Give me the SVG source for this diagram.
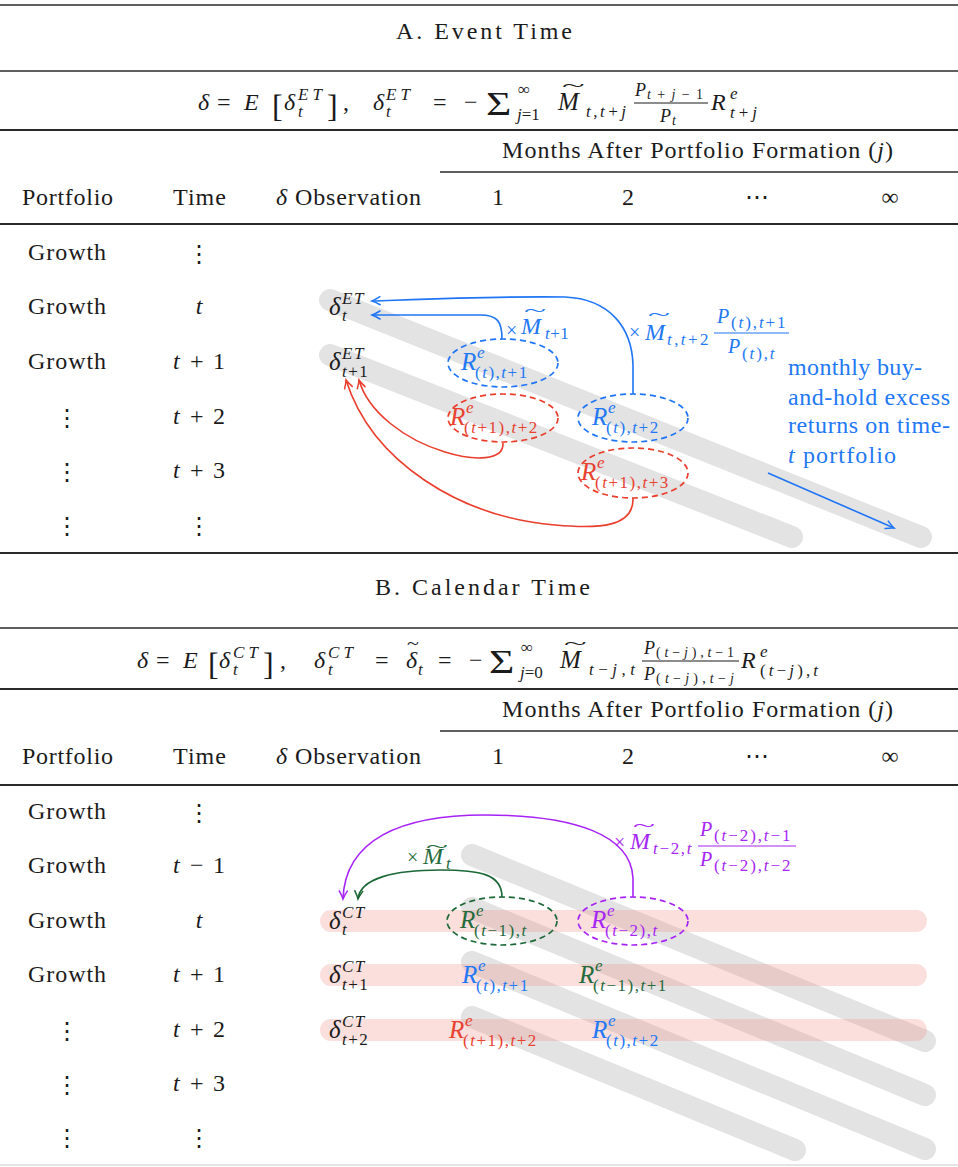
<svg xmlns="http://www.w3.org/2000/svg" width="958" height="1167" viewBox="0 0 958 1167">
<defs>
<style>
.t{font-family:"Liberation Serif","DejaVu Serif",serif;font-size:22px;fill:#1b1b1b}
.b{font-size:24px}
.i{font-style:italic}
.c{text-anchor:middle}
.m{font-size:25px;font-style:italic}
.sc{font-size:17px;letter-spacing:1.5px}
.f14{font-size:14px}
.f17{font-size:17px}
.f18{font-size:18px}
.f20{font-size:20px}
.f24{font-size:24px}
.f25{font-size:25px}
.f30{font-size:30px}
.f32{font-size:32px}
.ls05{letter-spacing:.5px}
.vd{font-family:"DejaVu Sans","Liberation Sans",sans-serif;font-size:24px;text-anchor:middle;fill:#1b1b1b}
.rule{stroke:#2a2a2a;fill:none}
.gb{stroke:#e3e3e3;stroke-width:22;stroke-linecap:round;fill:none}
.pk{stroke:#f0968f;stroke-opacity:.3;stroke-width:22;stroke-linecap:round;fill:none}
.el{fill:none;stroke-width:1.7;stroke-dasharray:6 4}
.ar{fill:none;stroke-width:1.6}
.fl{stroke-width:1.1}
.B{fill:#2278f5}.R{fill:#e8412f}.G{fill:#256b3c}.P{fill:#a626f2}
.sB{stroke:#1f75f5}.sR{stroke:#ea3d2c}.sG{stroke:#1d6838}.sP{stroke:#a723f5}
</style>
<marker id="mB" viewBox="-10 -6 12 12" refX="0" refY="0" markerWidth="12" markerHeight="12" markerUnits="userSpaceOnUse" orient="auto"><path d="M-8,-4 Q-3,-1 0,0 Q-3,1 -8,4" fill="none" stroke="#1f75f5" stroke-width="1.5" stroke-linecap="round"/></marker>
<marker id="mR" viewBox="-10 -6 12 12" refX="0" refY="0" markerWidth="12" markerHeight="12" markerUnits="userSpaceOnUse" orient="auto"><path d="M-8,-4 Q-3,-1 0,0 Q-3,1 -8,4" fill="none" stroke="#ea3d2c" stroke-width="1.5" stroke-linecap="round"/></marker>
<marker id="mG" viewBox="-10 -6 12 12" refX="0" refY="0" markerWidth="12" markerHeight="12" markerUnits="userSpaceOnUse" orient="auto"><path d="M-8,-4 Q-3,-1 0,0 Q-3,1 -8,4" fill="none" stroke="#1d6838" stroke-width="1.5" stroke-linecap="round"/></marker>
<marker id="mP" viewBox="-10 -6 12 12" refX="0" refY="0" markerWidth="12" markerHeight="12" markerUnits="userSpaceOnUse" orient="auto"><path d="M-8,-4 Q-3,-1 0,0 Q-3,1 -8,4" fill="none" stroke="#a723f5" stroke-width="1.5" stroke-linecap="round"/></marker>
</defs>
<rect width="958" height="1167" fill="#fff"/>

<g id="rules">
<line class="rule" x1="0" y1="5" x2="958" y2="5" stroke-width="1.3"/>
<line class="rule" x1="0" y1="71" x2="958" y2="71" stroke-width="1.3"/>
<line class="rule" x1="0" y1="130" x2="958" y2="130" stroke-width="2.2"/>
<line class="rule" x1="440" y1="172" x2="958" y2="172" stroke-width="1.3"/>
<line class="rule" x1="0" y1="224" x2="958" y2="224" stroke-width="1.8"/>
<line class="rule" x1="0" y1="553" x2="958" y2="553" stroke-width="2.2"/>
<line class="rule" x1="0" y1="628" x2="958" y2="628" stroke-width="1.3"/>
<line class="rule" x1="0" y1="689" x2="958" y2="689" stroke-width="2.2"/>
<line class="rule" x1="440" y1="731" x2="958" y2="731" stroke-width="1.3"/>
<line class="rule" x1="0" y1="785" x2="958" y2="785" stroke-width="1.8"/>
<line x1="0" y1="1165" x2="958" y2="1165" stroke="#c8c8c8" stroke-width="1"/>
</g>

<!-- ========== PANEL A ========== -->
<g id="titleA"><text class="t b" x="396" y="39" textLength="176" lengthAdjust="spacing">A. Event Time</text></g>

<g id="formulaA">
<text class="t i f24" x="198" y="110">δ</text>
<text class="t f24" x="217" y="110">=</text>
<text class="t i f24" x="244" y="110">E</text>
<text class="t f32" x="272" y="117">[</text>
<text class="t i f24" x="284" y="110">δ</text>
<text class="t i f17" x="298" y="100" textLength="24" lengthAdjust="spacing">ET</text>
<text class="t i f17" x="298" y="117">t</text>
<text class="t f32" x="327" y="117">]</text>
<text class="t f24" x="343" y="110">,</text>
<text class="t i f24" x="373" y="110">δ</text>
<text class="t i f17" x="386" y="100" textLength="24" lengthAdjust="spacing">ET</text>
<text class="t i f17" x="386" y="117">t</text>
<text class="t f24" x="433" y="110">=</text>
<text class="t f24" x="464" y="110">−</text>
<text class="t f30" transform="translate(486,115) scale(1.45,1.15)">Σ</text>
<text class="t f17" x="518" y="95">∞</text>
<text class="t f17" x="517" y="120"><tspan class="i">j</tspan>=1</text>
<text class="t i f25" x="558" y="110">M</text>
<text class="t" transform="translate(562,91) scale(1.9,0.8)">~</text>
<text class="t i f17" x="586" y="117" textLength="40" lengthAdjust="spacing">t,t+j</text>
<text class="t i f18" x="635" y="96">P</text>
<text class="t f14" x="647" y="99" textLength="56" lengthAdjust="spacing"><tspan class="i">t</tspan>+<tspan class="i">j</tspan>−1</text>
<line x1="634" y1="103" x2="708" y2="103" stroke="#1b1b1b" stroke-width="1"/>
<text class="t i f18" x="660" y="122">P</text>
<text class="t i f14" x="672" y="125">t</text>
<text class="t i f24" x="711" y="110">R</text>
<text class="t i f17" x="730" y="99">e</text>
<text class="t f17" x="730" y="118" textLength="27" lengthAdjust="spacing"><tspan class="i">t</tspan>+<tspan class="i">j</tspan></text>
</g>

<g id="headerA">
<text class="t b" x="502" y="158" textLength="391" lengthAdjust="spacing">Months After Portfolio Formation (<tspan class="i">j</tspan>)</text>
<text class="t b" x="22" y="205" textLength="91" lengthAdjust="spacing">Portfolio</text>
<text class="t b" x="173" y="205" textLength="53" lengthAdjust="spacing">Time</text>
<text class="t b" x="276" y="205" textLength="145" lengthAdjust="spacing"><tspan class="i">δ</tspan> Observation</text>
<text class="t b c" x="498" y="205">1</text>
<text class="t b c" x="628" y="205">2</text>
<text class="t b c" x="757" y="205">⋯</text>
<text class="t b c" x="890" y="205">∞</text>
</g>

<g id="rowsA">
<text class="t b" x="28" y="260" textLength="78" lengthAdjust="spacing">Growth</text>
<text class="t b" x="28" y="314" textLength="78" lengthAdjust="spacing">Growth</text>
<text class="t b" x="28" y="369" textLength="78" lengthAdjust="spacing">Growth</text>
<text class="vd" x="67" y="426">⋮</text>
<text class="vd" x="67" y="480">⋮</text>
<text class="vd" x="67" y="534">⋮</text>
<text class="vd" x="199" y="262">⋮</text>
<text class="t b i c" x="199" y="314">t</text>
<text class="t b" y="369"><tspan class="i" x="173">t</tspan><tspan x="190">+</tspan><tspan x="213">1</tspan></text>
<text class="t b" y="424"><tspan class="i" x="173">t</tspan><tspan x="190">+</tspan><tspan x="213">2</tspan></text>
<text class="t b" y="478"><tspan class="i" x="173">t</tspan><tspan x="190">+</tspan><tspan x="213">3</tspan></text>
<text class="vd" x="199" y="534">⋮</text>
</g>

<g id="barsA">
<line class="gb" x1="330" y1="300" x2="921" y2="537"/>
<line class="gb" x1="330" y1="355" x2="792" y2="537"/>
</g>

<g id="deltaA_t">
<text class="t m" x="329" y="315">δ</text>
<text class="t i sc" x="342" y="304">ET</text>
<text class="t i sc" x="342" y="321">t</text>
</g>
<g id="deltaA_t1">
<text class="t m" x="329" y="370">δ</text>
<text class="t i sc" x="342" y="359">ET</text>
<text class="t sc" x="342" y="377"><tspan class="i">t</tspan>+1</text>
</g>

<g id="cellA1">
<ellipse class="el sB" cx="503" cy="363" rx="55" ry="24"/>
<text class="t m B" x="461" y="370">R</text>
<text class="t i sc B" x="477" y="358">e</text>
<text class="t sc B" x="475" y="378">(<tspan class="i">t</tspan>),<tspan class="i">t</tspan>+1</text>
</g>
<g id="cellA2">
<ellipse class="el sR" cx="503" cy="418" rx="55" ry="24"/>
<text class="t m R" x="450" y="425">R</text>
<text class="t i sc R" x="466" y="413">e</text>
<text class="t sc R" x="464" y="433">(<tspan class="i">t</tspan>+1),<tspan class="i">t</tspan>+2</text>
</g>
<g id="cellA3">
<ellipse class="el sB" cx="633" cy="418" rx="55" ry="24"/>
<text class="t m B" x="592" y="425">R</text>
<text class="t i sc B" x="608" y="413">e</text>
<text class="t sc B" x="606" y="433">(<tspan class="i">t</tspan>),<tspan class="i">t</tspan>+2</text>
</g>
<g id="cellA4">
<ellipse class="el sR" cx="633" cy="473" rx="55" ry="25"/>
<text class="t m R" x="581" y="480">R</text>
<text class="t i sc R" x="597" y="468">e</text>
<text class="t sc R" x="595" y="488">(<tspan class="i">t</tspan>+1),<tspan class="i">t</tspan>+3</text>
</g>

<g id="labelA1">
<text class="t B f20" x="506" y="337">×</text>
<text class="t i B f24" x="521" y="334">M</text>
<text class="t B" transform="translate(524,316) scale(1.85,0.8)">~</text>
<text class="t sc ls05 B" x="545" y="339"><tspan class="i">t</tspan>+1</text>
</g>
<g id="labelA2">
<text class="t B f20" x="629" y="339">×</text>
<text class="t i B f24" x="645" y="340">M</text>
<text class="t B" transform="translate(648,320) scale(1.85,0.8)">~</text>
<text class="t sc B" x="667" y="345" textLength="43" lengthAdjust="spacing"><tspan class="i">t</tspan>,<tspan class="i">t</tspan>+2</text>
<text class="t i B f20" x="717" y="323">P</text>
<text class="t sc B" x="731" y="328" textLength="56" lengthAdjust="spacing">(<tspan class="i">t</tspan>),<tspan class="i">t</tspan>+1</text>
<line class="sB fl" x1="714" y1="333" x2="789" y2="333"/>
<text class="t i B f20" x="728" y="353">P</text>
<text class="t sc B" x="742" y="359" textLength="34" lengthAdjust="spacing">(<tspan class="i">t</tspan>),<tspan class="i">t</tspan></text>
</g>
<g id="noteA">
<text class="t b B" x="788" y="375" textLength="134" lengthAdjust="spacing">monthly buy-</text>
<text class="t b B" x="788" y="405" textLength="162" lengthAdjust="spacing">and-hold excess</text>
<text class="t b B" x="788" y="433" textLength="162" lengthAdjust="spacing">returns on time-</text>
<text class="t b B" x="788" y="463" textLength="108" lengthAdjust="spacing"><tspan class="i">t</tspan> portfolio</text>
</g>

<g id="connectorsA">
<path class="ar sB" d="M502,339 C502,322 498,315 480,315 L372,315" marker-end="url(#mB)"/>
<path class="ar sB" d="M633,394 L633,365 C632,328 610,299 565,297 C500,296 430,299 372,301" marker-end="url(#mB)"/>
<path class="ar sR" d="M503,443 C504,461 474,461 445,452 C405,440 368,412 359,380" marker-end="url(#mR)"/>
<path class="ar sR" d="M633,498 C634,527 600,529 555,525 C460,517 372,462 346,380" marker-end="url(#mR)"/>
<path class="ar sB" d="M768,473 L894,528" marker-end="url(#mB)"/>
</g>

<!-- ========== PANEL B ========== -->
<g id="titleB"><text class="t b" x="375" y="595" textLength="215" lengthAdjust="spacing">B. Calendar Time</text></g>

<g id="formulaB">
<text class="t i f24" x="137" y="668">δ</text>
<text class="t f24" x="156" y="668">=</text>
<text class="t i f24" x="183" y="668">E</text>
<text class="t f32" x="208" y="675">[</text>
<text class="t i f24" x="219" y="668">δ</text>
<text class="t i f17" x="233" y="658" textLength="25" lengthAdjust="spacing">CT</text>
<text class="t i f17" x="233" y="675">t</text>
<text class="t f32" x="263" y="675">]</text>
<text class="t f24" x="280" y="668">,</text>
<text class="t i f24" x="314" y="668">δ</text>
<text class="t i f17" x="328" y="658" textLength="25" lengthAdjust="spacing">CT</text>
<text class="t i f17" x="328" y="675">t</text>
<text class="t f24" x="375" y="668">=</text>
<text class="t i f24" x="406" y="668">δ</text>
<text class="t" transform="translate(407,649) scale(1.0,0.8)">~</text>
<text class="t i f17" x="418" y="675">t</text>
<text class="t f24" x="438" y="668">=</text>
<text class="t f24" x="469" y="668">−</text>
<text class="t f30" transform="translate(489,673) scale(1.45,1.15)">Σ</text>
<text class="t f17" x="521" y="653">∞</text>
<text class="t f17" x="520" y="678"><tspan class="i">j</tspan>=0</text>
<text class="t i f25" x="560" y="668">M</text>
<text class="t" transform="translate(564,649) scale(1.9,0.8)">~</text>
<text class="t f17" x="589" y="675" textLength="46" lengthAdjust="spacing"><tspan class="i">t</tspan>−<tspan class="i">j</tspan>,<tspan class="i">t</tspan></text>
<text class="t i f18" x="644" y="654">P</text>
<text class="t f14" x="656" y="657" textLength="78" lengthAdjust="spacing">(<tspan class="i">t</tspan>−<tspan class="i">j</tspan>),<tspan class="i">t</tspan>−1</text>
<line x1="642" y1="661" x2="739" y2="661" stroke="#1b1b1b" stroke-width="1"/>
<text class="t i f18" x="644" y="680">P</text>
<text class="t f14" x="656" y="683" textLength="78" lengthAdjust="spacing">(<tspan class="i">t</tspan>−<tspan class="i">j</tspan>),<tspan class="i">t</tspan>−<tspan class="i">j</tspan></text>
<text class="t i f24" x="741" y="668">R</text>
<text class="t i f17" x="760" y="657">e</text>
<text class="t f17" x="760" y="676" textLength="58" lengthAdjust="spacing">(<tspan class="i">t</tspan>−<tspan class="i">j</tspan>),<tspan class="i">t</tspan></text>
</g>

<g id="headerB">
<text class="t b" x="502" y="717" textLength="391" lengthAdjust="spacing">Months After Portfolio Formation (<tspan class="i">j</tspan>)</text>
<text class="t b" x="22" y="764" textLength="91" lengthAdjust="spacing">Portfolio</text>
<text class="t b" x="173" y="764" textLength="53" lengthAdjust="spacing">Time</text>
<text class="t b" x="276" y="764" textLength="145" lengthAdjust="spacing"><tspan class="i">δ</tspan> Observation</text>
<text class="t b c" x="498" y="764">1</text>
<text class="t b c" x="628" y="764">2</text>
<text class="t b c" x="757" y="764">⋯</text>
<text class="t b c" x="890" y="764">∞</text>
</g>

<g id="rowsB">
<text class="t b" x="28" y="819" textLength="78" lengthAdjust="spacing">Growth</text>
<text class="t b" x="28" y="873" textLength="78" lengthAdjust="spacing">Growth</text>
<text class="t b" x="28" y="928" textLength="78" lengthAdjust="spacing">Growth</text>
<text class="t b" x="28" y="982" textLength="78" lengthAdjust="spacing">Growth</text>
<text class="vd" x="67" y="1039">⋮</text>
<text class="vd" x="67" y="1093">⋮</text>
<text class="vd" x="67" y="1146">⋮</text>
<text class="vd" x="199" y="821">⋮</text>
<text class="t b" y="873"><tspan class="i" x="173">t</tspan><tspan x="190">−</tspan><tspan x="213">1</tspan></text>
<text class="t b i c" x="199" y="928">t</text>
<text class="t b" y="982"><tspan class="i" x="173">t</tspan><tspan x="190">+</tspan><tspan x="213">1</tspan></text>
<text class="t b" y="1037"><tspan class="i" x="173">t</tspan><tspan x="190">+</tspan><tspan x="213">2</tspan></text>
<text class="t b" y="1091"><tspan class="i" x="173">t</tspan><tspan x="190">+</tspan><tspan x="213">3</tspan></text>
<text class="vd" x="199" y="1146">⋮</text>
</g>

<g id="barsB">
<line class="gb" x1="472" y1="855" x2="925" y2="1041"/>
<line class="gb" x1="472" y1="908" x2="925" y2="1095"/>
<line class="gb" x1="472" y1="962" x2="925" y2="1149"/>
<line class="gb" x1="472" y1="1017" x2="795" y2="1150"/>
<line class="pk" x1="331" y1="921" x2="916" y2="921"/>
<line class="pk" x1="331" y1="975" x2="916" y2="975"/>
<line class="pk" x1="331" y1="1030" x2="916" y2="1030"/>
</g>

<g id="deltaB_t">
<text class="t m" x="329" y="929">δ</text>
<text class="t i sc" x="342" y="918">CT</text>
<text class="t i sc" x="342" y="935">t</text>
</g>
<g id="deltaB_t1">
<text class="t m" x="329" y="983">δ</text>
<text class="t i sc" x="342" y="972">CT</text>
<text class="t sc" x="342" y="990"><tspan class="i">t</tspan>+1</text>
</g>
<g id="deltaB_t2">
<text class="t m" x="329" y="1038">δ</text>
<text class="t i sc" x="342" y="1027">CT</text>
<text class="t sc" x="342" y="1045"><tspan class="i">t</tspan>+2</text>
</g>

<g id="cellB1">
<ellipse class="el sG" cx="502" cy="921" rx="55" ry="24"/>
<text class="t m G" x="460" y="928">R</text>
<text class="t i sc G" x="476" y="916">e</text>
<text class="t sc G" x="474" y="936">(<tspan class="i">t</tspan>−1),<tspan class="i">t</tspan></text>
</g>
<g id="cellB2">
<ellipse class="el sP" cx="633" cy="921" rx="55" ry="24"/>
<text class="t m P" x="591" y="928">R</text>
<text class="t i sc P" x="607" y="916">e</text>
<text class="t sc P" x="605" y="936">(<tspan class="i">t</tspan>−2),<tspan class="i">t</tspan></text>
</g>
<g id="cellB3">
<text class="t m B" x="462" y="983">R</text>
<text class="t i sc B" x="478" y="971">e</text>
<text class="t sc B" x="476" y="991">(<tspan class="i">t</tspan>),<tspan class="i">t</tspan>+1</text>
</g>
<g id="cellB4">
<text class="t m G" x="579" y="983">R</text>
<text class="t i sc G" x="595" y="971">e</text>
<text class="t sc G" x="593" y="991">(<tspan class="i">t</tspan>−1),<tspan class="i">t</tspan>+1</text>
</g>
<g id="cellB5">
<text class="t m R" x="449" y="1038">R</text>
<text class="t i sc R" x="465" y="1026">e</text>
<text class="t sc R" x="463" y="1046">(<tspan class="i">t</tspan>+1),<tspan class="i">t</tspan>+2</text>
</g>
<g id="cellB6">
<text class="t m B" x="592" y="1038">R</text>
<text class="t i sc B" x="608" y="1026">e</text>
<text class="t sc B" x="606" y="1046">(<tspan class="i">t</tspan>),<tspan class="i">t</tspan>+2</text>
</g>

<g id="labelB1">
<text class="t G f20" x="407" y="864">×</text>
<text class="t i G f24" x="423" y="864">M</text>
<text class="t G" transform="translate(426,852) scale(1.85,0.8)">~</text>
<text class="t i sc G" x="446" y="869">t</text>
</g>
<g id="labelB2">
<text class="t P f20" x="614" y="849">×</text>
<text class="t i P f24" x="630" y="849">M</text>
<text class="t P" transform="translate(633,831) scale(1.85,0.8)">~</text>
<text class="t sc P" x="653" y="854" textLength="40" lengthAdjust="spacing"><tspan class="i">t</tspan>−2,<tspan class="i">t</tspan></text>
<text class="t i P f20" x="700" y="836">P</text>
<text class="t sc P" x="714" y="841" textLength="78" lengthAdjust="spacing">(<tspan class="i">t</tspan>−2),<tspan class="i">t</tspan>−1</text>
<line class="sP fl" x1="698" y1="846" x2="796" y2="846"/>
<text class="t i P f20" x="700" y="866">P</text>
<text class="t sc P" x="714" y="871" textLength="78" lengthAdjust="spacing">(<tspan class="i">t</tspan>−2),<tspan class="i">t</tspan>−2</text>
</g>

<g id="connectorsB">
<path class="ar sP" d="M633,897 L633,878 C631,835 575,815 485,815 C400,815 345,840 343,899" marker-end="url(#mP)"/>
<path class="ar sG" d="M502,897 C502,874 480,870 440,870 C395,870 360,878 358,899" marker-end="url(#mG)"/>
</g>
</svg>
